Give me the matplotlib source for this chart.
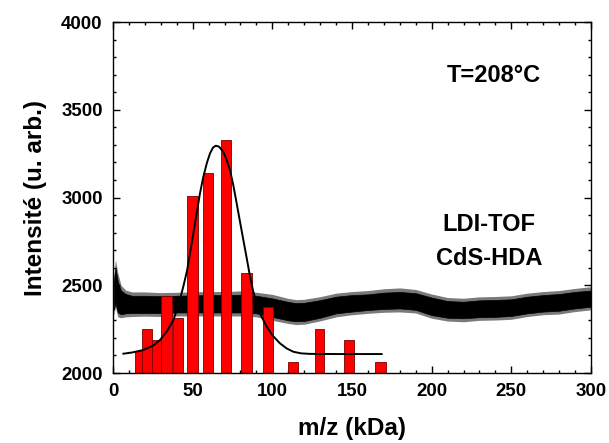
import matplotlib
matplotlib.use("Agg")
import matplotlib.pyplot as plt
from matplotlib.ticker import MultipleLocator

plt.rcParams['font.family'] = ['Liberation Sans', 'DejaVu Sans']
plt.rcParams['font.weight'] = 'bold'

# Histogram of particle masses (bars)
bar_centers = [15.8, 21.2, 27.2, 33.5, 41.0, 49.9, 59.6, 70.8, 83.7, 97.5, 112.8, 129.7, 148.1, 167.9]
bar_widths = [4.6, 6.3, 5.8, 6.7, 6.3, 6.5, 6.7, 6.5, 6.8, 6.3, 6.3, 5.8, 6.3, 6.6]
bar_heights = [2125, 2251, 2188, 2440, 2315, 3009, 3141, 3328, 2568, 2378, 2061, 2251, 2188, 2061]

# Gaussian fit curve
fit_x = [6.5, 12, 19, 25, 29.5, 34, 37.9, 41, 44.1, 46.5, 48.3, 50.5, 52.5, 54.5, 56.7, 59, 60.9, 62.8, 64.5,
         66.5, 69.2, 71.3, 73.4, 75.5, 77.6, 79.7, 81.8, 84, 86, 88, 90.2, 93, 96.5, 100, 104.8, 109, 113.2, 118, 123.6, 140, 168.6]
fit_y = [2110, 2117, 2131, 2155, 2188, 2240, 2302, 2385, 2492, 2585, 2682, 2800, 2910, 3020, 3119, 3200, 3252, 3285, 3295,
         3290, 3261, 3215, 3157, 3070, 2967, 2862, 2758, 2650, 2549, 2465, 2397, 2325, 2264, 2215, 2169, 2140, 2121, 2112, 2109, 2108, 2108]

# LDI-TOF spectrum: dense noisy trace read as its core band and its spike extent
spec_x = [0.5, 1.5, 3, 5, 8, 12, 20, 30, 40, 50, 60, 70, 80, 90, 100, 110, 115, 120, 130, 140, 150, 160, 170,
          180, 190, 200, 210, 220, 230, 240, 250, 260, 270, 280, 290, 300]
core_upper = [2520, 2600, 2520, 2470, 2450, 2440, 2440, 2438, 2440, 2442, 2444, 2444, 2446, 2440, 2425, 2405, 2398,
              2400, 2415, 2435, 2444, 2448, 2458, 2462, 2455, 2430, 2410, 2406, 2414, 2416, 2420, 2435, 2444, 2450,
              2462, 2470]
core_lower = [2360, 2400, 2345, 2335, 2340, 2342, 2342, 2342, 2345, 2345, 2345, 2345, 2345, 2340, 2320, 2300, 2295,
              2296, 2315, 2340, 2350, 2359, 2365, 2368, 2360, 2330, 2315, 2312, 2318, 2320, 2325, 2340, 2350, 2355,
              2368, 2378]
spike_upper = [2560, 2645, 2570, 2500, 2472, 2462, 2462, 2458, 2460, 2462, 2465, 2464, 2468, 2460, 2448, 2425, 2418,
               2420, 2435, 2455, 2464, 2470, 2480, 2485, 2476, 2450, 2430, 2426, 2434, 2436, 2440, 2455, 2464, 2470,
               2482, 2492]
spike_lower = [2330, 2375, 2320, 2315, 2320, 2322, 2324, 2322, 2325, 2325, 2325, 2325, 2325, 2320, 2300, 2282, 2276,
               2278, 2297, 2320, 2332, 2340, 2346, 2348, 2342, 2312, 2296, 2292, 2300, 2302, 2306, 2322, 2332, 2336,
               2350, 2360]

fig = plt.figure(figsize=(6.09, 4.43), dpi=100)
ax = fig.add_axes([0.1856, 0.158, 0.7848, 0.7923])

ax.fill_between(spec_x, spike_lower, spike_upper, color='#222222', alpha=0.6, linewidth=0, zorder=1)
ax.fill_between(spec_x, core_lower, core_upper, color='black', linewidth=0.5, zorder=1.5)
base = 2000
ax.bar(bar_centers, [h - base for h in bar_heights], width=bar_widths, bottom=base,
       color='#ff0000', edgecolor='#7a0000', linewidth=0.6, zorder=2)
ax.plot(fit_x, fit_y, color='black', linewidth=1.4, zorder=3)

ax.set_xlim(0, 300)
ax.set_ylim(2000, 4000)
ax.xaxis.set_major_locator(MultipleLocator(50))
ax.xaxis.set_minor_locator(MultipleLocator(10))
ax.yaxis.set_major_locator(MultipleLocator(500))
ax.yaxis.set_minor_locator(MultipleLocator(100))
ax.tick_params(which='both', direction='in', top=True, right=True, labelsize=13.4, width=1.0)
ax.tick_params(which='major', length=5, pad=7.5)
ax.tick_params(which='minor', length=2.5)
for lab in ax.get_xticklabels() + ax.get_yticklabels():
    lab.set_fontweight('bold')
for s in ax.spines.values():
    s.set_linewidth(1.0)

ax.set_xlabel('m/z (kDa)', fontsize=17.5, fontweight='bold', labelpad=12)
ax.set_ylabel('Intensité (u. arb.)', fontsize=17.5, fontweight='bold', labelpad=10)

ax.text(239, 3694, 'T=208°C', fontsize=17, fontweight='bold', ha='center', va='center')
ax.text(236, 2849, 'LDI-TOF', fontsize=17, fontweight='bold', ha='center', va='center')
ax.text(236, 2652, 'CdS-HDA', fontsize=17, fontweight='bold', ha='center', va='center')

fig.savefig('out.png', dpi=100)
